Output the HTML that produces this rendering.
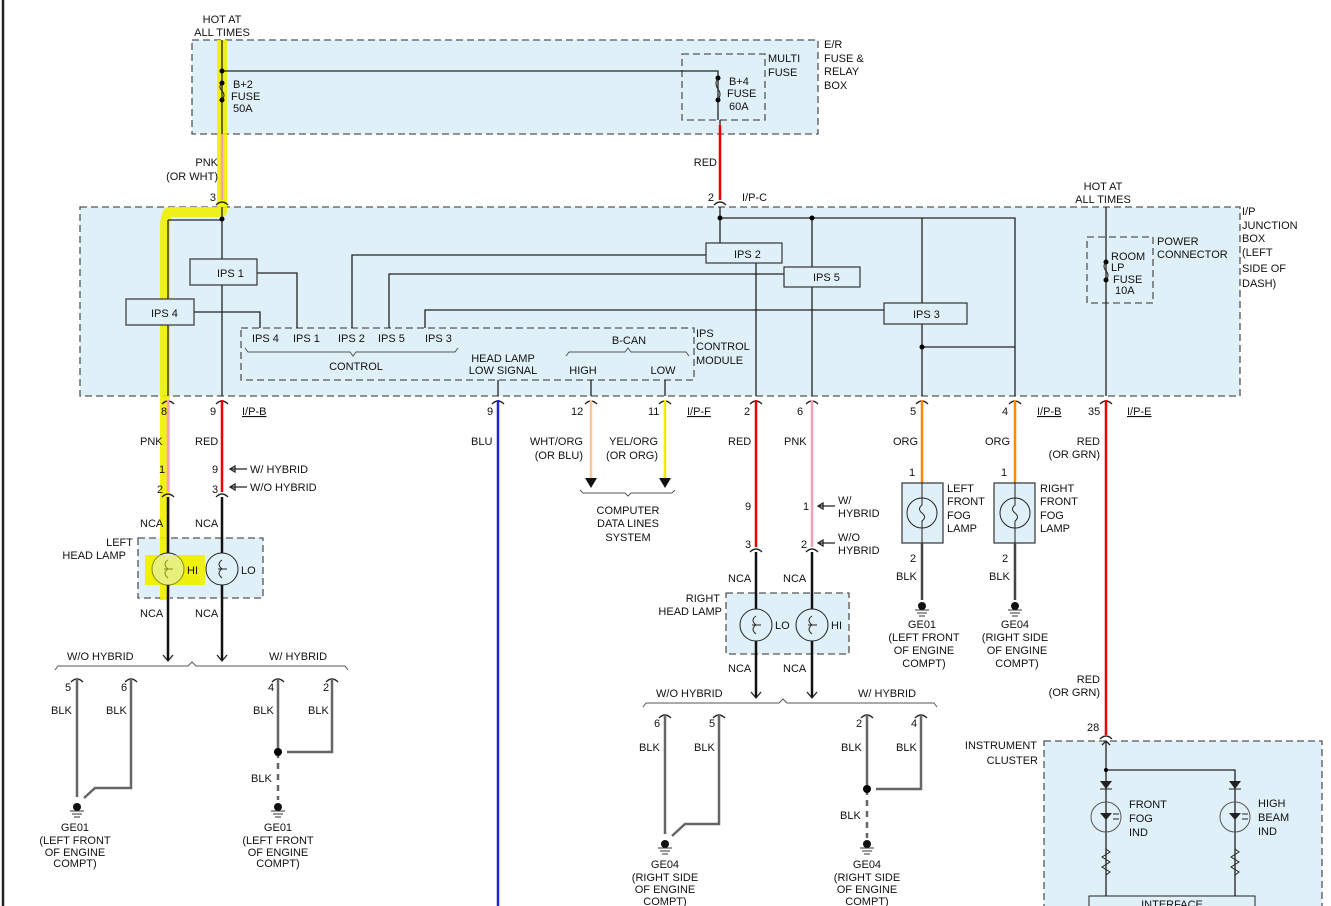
<!DOCTYPE html>
<html><head><meta charset="utf-8"><style>
html,body{margin:0;padding:0;background:#fff}
svg{display:block}
text{font-family:"Liberation Sans",sans-serif;font-size:11px;fill:#111}
.w{stroke:#222;stroke-width:1.3;fill:none}
.g{stroke:#666;stroke-width:2.5;fill:none}
.box{fill:#e0f0f8;stroke:#555;stroke-width:1.3;stroke-dasharray:7,4}
.ips{fill:#e0f0f8;stroke:#333;stroke-width:1.2}
</style></head><body>
<svg width="1331" height="906" viewBox="0 0 1331 906" xmlns="http://www.w3.org/2000/svg">
<line x1="3" y1="0" x2="3" y2="906" stroke="#222" stroke-width="2.5"/>
<!-- boxes -->
<rect class="box" x="192" y="40" width="626" height="94"/>
<rect class="box" x="682" y="54" width="83" height="66"/>
<rect class="box" x="80" y="207" width="1160" height="189"/>
<rect class="box" x="241" y="328" width="453" height="52"/>
<rect class="box" x="1087" y="237" width="66" height="66"/>
<rect class="box" x="138" y="538" width="125" height="60"/>
<rect class="box" x="726" y="593" width="123" height="61"/>
<rect class="box" x="1044" y="741" width="278" height="170"/>
<!-- highlighter -->
<g stroke="#f0f000" stroke-width="10" fill="none" stroke-linejoin="round" opacity="0.9">
<path d="M222 40 V212 H170 Q165 212 165 230 V600"/>
<rect x="145" y="555" width="60" height="30" fill="#f0f000" stroke="none"/>
</g>
<!-- E/R box -->
<path class="w" d="M222 40 V134 M222 71 H718 V120 M720 120 V134"/>
<circle cx="222" cy="71" r="2.5"/><circle cx="222" cy="83" r="2.5"/><circle cx="222" cy="100" r="2.5"/>
<path d="M222 83 q-4 4 0 8 q4 4 0 9" stroke="#222" fill="none"/>
<circle cx="718" cy="78" r="2.5"/><circle cx="718" cy="100" r="2.5"/>
<path d="M718 78 q-4 5 0 11 q4 5 0 11" stroke="#222" fill="none"/>
<text x="222" y="23" text-anchor="middle">HOT AT</text><text x="222" y="36" text-anchor="middle">ALL TIMES</text>
<text x="233" y="88">B+2</text><text x="231" y="100">FUSE</text><text x="233" y="112">50A</text>
<text x="729" y="85">B+4</text><text x="727" y="97">FUSE</text><text x="729" y="110">60A</text>
<text x="768" y="62">MULTI</text><text x="768" y="76">FUSE</text>
<text x="824" y="48">E/R</text><text x="824" y="62">FUSE &amp;</text><text x="824" y="75">RELAY</text><text x="824" y="89">BOX</text>
<line x1="222" y1="134" x2="222" y2="200" stroke="#f4a0b8" stroke-width="2.5"/>
<line x1="720" y1="125" x2="720" y2="200" stroke="#e00" stroke-width="2.5"/>
<text x="218" y="166" text-anchor="end">PNK</text><text x="218" y="180" text-anchor="end">(OR WHT)</text>
<text x="717" y="166" text-anchor="end">RED</text>
<text x="216" y="201" text-anchor="end">3</text><text x="714" y="201" text-anchor="end">2</text><text x="742" y="201">I/P-C</text>
<path class="w" d="M216 205 q6 -6 12 0 M714 205 q6 -6 12 0"/>
<!-- junction box internals -->
<path class="w" d="M222 207 V396 M168 220 H222 M168 220 V396 M257 273 H297 V328 M194 312 H260 V328 M352 328 V255 H706 M389 328 V274 H784 M425 328 V310 H884"/>
<path class="w" d="M720 207 V243 M720 218 H1015 V396 M756 263 V396 M812 218 V267 M812 287 V396 M922 218 V303 M922 324 V396 M922 347 H1015 M1106 207 V396 M591 380 V396 M665 380 V396 M498 380 V396"/>
<circle cx="222" cy="219" r="2.5"/><circle cx="720" cy="218" r="2.5"/><circle cx="812" cy="218" r="2.5"/><circle cx="922" cy="347" r="2.5"/>
<circle cx="1106" cy="262" r="2.5"/><circle cx="1106" cy="280" r="2.5"/>
<path d="M1106 262 q-4 4 0 9 q4 4 0 9" stroke="#222" fill="none"/>
<rect class="ips" x="190" y="259" width="67" height="26"/><text x="217" y="277">IPS 1</text>
<rect class="ips" x="126" y="299" width="68" height="26"/><text x="151" y="317">IPS 4</text>
<rect class="ips" x="706" y="243" width="76" height="20"/><text x="734" y="258">IPS 2</text>
<rect class="ips" x="784" y="267" width="76" height="20"/><text x="813" y="281">IPS 5</text>
<rect class="ips" x="884" y="303" width="83" height="21"/><text x="913" y="318">IPS 3</text>
<text x="252" y="342">IPS 4</text><text x="293" y="342">IPS 1</text><text x="338" y="342">IPS 2</text><text x="378" y="342">IPS 5</text><text x="425" y="342">IPS 3</text>
<path d="M245 348 l3 4 H350 l3 4 l3 -4 H455 l3 -4" stroke="#555" fill="none"/>
<path d="M566 356 l3 -4 H625 l3 -4 l3 4 H686 l3 4" stroke="#555" fill="none"/>
<text x="356" y="370" text-anchor="middle">CONTROL</text>
<text x="503" y="362" text-anchor="middle">HEAD LAMP</text><text x="503" y="374" text-anchor="middle">LOW SIGNAL</text>
<text x="629" y="344" text-anchor="middle">B-CAN</text><text x="583" y="374" text-anchor="middle">HIGH</text><text x="663" y="374" text-anchor="middle">LOW</text>
<text x="696" y="337">IPS</text><text x="696" y="350">CONTROL</text><text x="696" y="364">MODULE</text>
<text x="1103" y="190" text-anchor="middle">HOT AT</text><text x="1103" y="203" text-anchor="middle">ALL TIMES</text>
<text x="1242" y="215">I/P</text><text x="1242" y="229">JUNCTION</text><text x="1242" y="242">BOX</text><text x="1242" y="256">(LEFT</text><text x="1242" y="272">SIDE OF</text><text x="1242" y="287">DASH)</text>
<text x="1157" y="245">POWER</text><text x="1157" y="258">CONNECTOR</text>
<text x="1111" y="260">ROOM</text><text x="1111" y="271">LP</text><text x="1113" y="283">FUSE</text><text x="1115" y="294">10A</text>
<!-- bottom connectors -->
<g class="w">
<path d="M162 404 q6 -6 12 0 M216 404 q6 -6 12 0 M492 404 q6 -6 12 0 M585 404 q6 -6 12 0 M659 404 q6 -6 12 0 M750 404 q6 -6 12 0 M806 404 q6 -6 12 0 M916 404 q6 -6 12 0 M1009 404 q6 -6 12 0 M1100 404 q6 -6 12 0"/>
</g>
<text x="161" y="415">8</text><text x="210" y="415">9</text><text x="242" y="415" text-decoration="underline">I/P-B</text>
<text x="487" y="415">9</text><text x="571" y="415">12</text><text x="648" y="415">11</text><text x="687" y="415" text-decoration="underline">I/P-F</text>
<text x="744" y="415">2</text><text x="797" y="415">6</text><text x="910" y="415">5</text><text x="1002" y="415">4</text><text x="1037" y="415" text-decoration="underline">I/P-B</text>
<text x="1088" y="415">35</text><text x="1127" y="415" text-decoration="underline">I/P-E</text>
<!-- colored wires -->
<line x1="168" y1="400" x2="168" y2="492" stroke="#f4a0b8" stroke-width="2.5"/>
<line x1="222" y1="400" x2="222" y2="492" stroke="#e00" stroke-width="2.5"/>
<line x1="498" y1="400" x2="498" y2="906" stroke="#22d" stroke-width="2.5"/>
<line x1="591" y1="400" x2="591" y2="478" stroke="#f8c898" stroke-width="2.5"/>
<line x1="665" y1="400" x2="665" y2="478" stroke="#ee0" stroke-width="2.5"/>
<line x1="756" y1="400" x2="756" y2="547" stroke="#e00" stroke-width="2.5"/>
<line x1="812" y1="400" x2="812" y2="547" stroke="#f4a0b8" stroke-width="2.5"/>
<line x1="922" y1="400" x2="922" y2="483" stroke="#f80" stroke-width="2.5"/>
<line x1="1015" y1="400" x2="1015" y2="483" stroke="#f80" stroke-width="2.5"/>
<line x1="1106" y1="400" x2="1106" y2="735" stroke="#e00" stroke-width="2.5"/>
<text x="140" y="445">PNK</text><text x="195" y="445">RED</text><text x="471" y="445">BLU</text>
<text x="583" y="445" text-anchor="end">WHT/ORG</text><text x="583" y="459" text-anchor="end">(OR BLU)</text>
<text x="658" y="445" text-anchor="end">YEL/ORG</text><text x="658" y="459" text-anchor="end">(OR ORG)</text>
<text x="728" y="445">RED</text><text x="784" y="445">PNK</text><text x="893" y="445">ORG</text><text x="985" y="445">ORG</text>
<text x="1100" y="445" text-anchor="end">RED</text><text x="1100" y="458" text-anchor="end">(OR GRN)</text>
<!-- computer data -->
<path d="M585 478 h12 l-6 10 z M659 478 h12 l-6 10 z" fill="#111"/>
<path d="M580 490 l3 3 H625 l3 3 l3 -3 H672 l3 -3" stroke="#555" fill="none"/>
<text x="628" y="514" text-anchor="middle">COMPUTER</text><text x="628" y="527" text-anchor="middle">DATA LINES</text><text x="628" y="541" text-anchor="middle">SYSTEM</text>
<!-- left head lamp -->
<text x="159" y="473">1</text><text x="157" y="493">2</text><text x="212" y="473">9</text><text x="212" y="493">3</text>
<path class="w" d="M230 469 H247 M230 469 l5 -3 v6 z M230 487 H247 M230 487 l5 -3 v6 z"/>
<text x="250" y="473">W/ HYBRID</text><text x="250" y="491">W/O HYBRID</text>
<path class="w" d="M162 497 q6 -6 12 0 M216 497 q6 -6 12 0"/>
<path d="M168 497 V660 M222 497 V660" stroke="#111" stroke-width="2.5"/>
<path class="w" d="M163 655 l5 6 l5 -6 M217 655 l5 6 l5 -6"/>
<text x="140" y="527">NCA</text><text x="195" y="527">NCA</text><text x="140" y="617">NCA</text><text x="195" y="617">NCA</text>
<circle cx="168" cy="569" r="16" fill="#e0f0f8" stroke="#222"/><circle cx="222" cy="569" r="16" fill="#e0f0f8" stroke="#222"/>
<path d="M168 560 q-6 4 0 9 q-6 4 0 9 M164 569 h9 M222 560 q-6 4 0 9 q-6 4 0 9 M218 569 h9" stroke="#222" fill="none"/>
<rect x="145" y="555" width="55" height="30" fill="#f0f000" opacity="0.5"/>
<text x="187" y="574">HI</text><text x="241" y="574">LO</text>
<text x="133" y="546" text-anchor="end">LEFT</text><text x="126" y="559" text-anchor="end">HEAD LAMP</text>
<path d="M55 670 l3 -4 H188 l4 -4 l4 4 H345 l3 4" stroke="#555" fill="none"/>
<text x="67" y="660">W/O HYBRID</text><text x="269" y="660">W/ HYBRID</text>
<path class="w" d="M71 682 q6 -6 12 0 M125 682 q6 -6 12 0 M272 682 q6 -6 12 0 M326 682 q6 -6 12 0"/>
<path class="g" d="M77 678 V797 M131 678 V788 H95 L84 798 M278 678 V752 M332 678 V752 H287"/>
<path d="M278 752 V800" stroke="#666" stroke-width="2.5" stroke-dasharray="6,5"/>
<circle cx="278" cy="752" r="4"/>
<text x="65" y="691">5</text><text x="121" y="691">6</text><text x="268" y="691">4</text><text x="323" y="691">2</text>
<text x="51" y="714">BLK</text><text x="106" y="714">BLK</text><text x="253" y="714">BLK</text><text x="308" y="714">BLK</text><text x="251" y="782">BLK</text>
<g fill="#111"><circle cx="77" cy="807" r="4"/><circle cx="278" cy="807" r="4"/></g>
<path d="M70 811 h14 M72 814 h10 M74 817 h6 M271 811 h14 M273 814 h10 M275 817 h6" stroke="#333"/>
<g text-anchor="middle"><text x="75" y="831">GE01</text><text x="75" y="844">(LEFT FRONT</text><text x="75" y="856">OF ENGINE</text><text x="75" y="867">COMPT)</text>
<text x="278" y="831">GE01</text><text x="278" y="844">(LEFT FRONT</text><text x="278" y="856">OF ENGINE</text><text x="278" y="867">COMPT)</text></g>
<!-- right head lamp -->
<text x="745" y="510">9</text><text x="803" y="510">1</text><text x="745" y="548">3</text><text x="801" y="548">2</text>
<path class="w" d="M818 506 H835 M818 506 l5 -3 v6 z M818 543 H835 M818 543 l5 -3 v6 z"/>
<text x="838" y="504">W/</text><text x="838" y="517">HYBRID</text><text x="838" y="541">W/O</text><text x="838" y="554">HYBRID</text>
<path class="w" d="M750 552 q6 -6 12 0 M806 552 q6 -6 12 0"/>
<path d="M756 552 V697 M812 552 V697" stroke="#111" stroke-width="2.5"/>
<path class="w" d="M751 692 l5 6 l5 -6 M807 692 l5 6 l5 -6"/>
<text x="728" y="582">NCA</text><text x="783" y="582">NCA</text><text x="728" y="672">NCA</text><text x="783" y="672">NCA</text>
<circle cx="756" cy="625" r="16" fill="#e0f0f8" stroke="#222"/><circle cx="812" cy="625" r="16" fill="#e0f0f8" stroke="#222"/>
<path d="M756 616 q-6 4 0 9 q-6 4 0 9 M752 625 h9 M812 616 q-6 4 0 9 q-6 4 0 9 M808 625 h9" stroke="#222" fill="none"/>
<text x="775" y="629">LO</text><text x="831" y="629">HI</text>
<text x="720" y="602" text-anchor="end">RIGHT</text><text x="722" y="615" text-anchor="end">HEAD LAMP</text>
<path d="M643 707 l3 -4 H779 l4 -4 l4 4 H934 l3 4" stroke="#555" fill="none"/>
<text x="656" y="697">W/O HYBRID</text><text x="858" y="697">W/ HYBRID</text>
<path class="w" d="M659 718 q6 -6 12 0 M713 718 q6 -6 12 0 M861 718 q6 -6 12 0 M915 718 q6 -6 12 0"/>
<path class="g" d="M665 714 V834 M719 714 V824 H685 L672 836 M867 714 V789 M921 714 V789 H876"/>
<path d="M867 789 V838" stroke="#666" stroke-width="2.5" stroke-dasharray="6,5"/>
<circle cx="867" cy="789" r="4"/>
<text x="654" y="727">6</text><text x="709" y="727">5</text><text x="856" y="727">2</text><text x="911" y="727">4</text>
<text x="639" y="751">BLK</text><text x="694" y="751">BLK</text><text x="841" y="751">BLK</text><text x="896" y="751">BLK</text><text x="840" y="819">BLK</text>
<g fill="#111"><circle cx="665" cy="844" r="4"/><circle cx="867" cy="844" r="4"/></g>
<path d="M658 848 h14 M660 851 h10 M662 854 h6 M860 848 h14 M862 851 h10 M864 854 h6" stroke="#333"/>
<g text-anchor="middle"><text x="665" y="868">GE04</text><text x="665" y="881">(RIGHT SIDE</text><text x="665" y="893">OF ENGINE</text><text x="665" y="905">COMPT)</text>
<text x="867" y="868">GE04</text><text x="867" y="881">(RIGHT SIDE</text><text x="867" y="893">OF ENGINE</text><text x="867" y="905">COMPT)</text></g>
<!-- fog lamps -->
<text x="909" y="476">1</text><text x="1001" y="476">1</text>
<rect class="ips" x="902" y="483" width="41" height="60" fill="#e0f0f8"/><rect class="ips" x="994" y="483" width="41" height="60"/>
<circle cx="922" cy="513" r="15" fill="none" stroke="#222"/><circle cx="1015" cy="513" r="15" fill="none" stroke="#222"/>
<path d="M922 483 V505 q-5 4 0 8 q5 4 0 8 V543 M1015 483 V505 q-5 4 0 8 q5 4 0 8 V543" stroke="#222" fill="none"/>
<path d="M922 543 V600 M1015 543 V600" stroke="#444" stroke-width="2.5"/>
<text x="947" y="492">LEFT</text><text x="947" y="505">FRONT</text><text x="947" y="519">FOG</text><text x="947" y="532">LAMP</text>
<text x="1040" y="492">RIGHT</text><text x="1040" y="505">FRONT</text><text x="1040" y="519">FOG</text><text x="1040" y="532">LAMP</text>
<text x="910" y="562">2</text><text x="1002" y="562">2</text><text x="896" y="580">BLK</text><text x="989" y="580">BLK</text>
<g fill="#111"><circle cx="922" cy="606" r="4"/><circle cx="1015" cy="606" r="4"/></g>
<path d="M915 610 h14 M917 613 h10 M919 616 h6 M1008 610 h14 M1010 613 h10 M1012 616 h6" stroke="#333"/>
<g text-anchor="middle"><text x="922" y="628">GE01</text><text x="924" y="641">(LEFT FRONT</text><text x="924" y="654">OF ENGINE</text><text x="924" y="667">COMPT)</text>
<text x="1015" y="628">GE04</text><text x="1015" y="641">(RIGHT SIDE</text><text x="1017" y="654">OF ENGINE</text><text x="1017" y="667">COMPT)</text></g>
<!-- instrument cluster -->
<text x="1100" y="683" text-anchor="end">RED</text><text x="1100" y="696" text-anchor="end">(OR GRN)</text>
<text x="1087" y="731">28</text>
<path class="w" d="M1100 739 q6 -6 12 0 M1102 745 l4 -4 l4 4"/>
<path class="w" d="M1106 741 V896 M1106 770 H1235 V896"/>
<circle cx="1106" cy="770" r="2"/>
<path d="M1100 781 h12 l-6 8 z M1229 781 h12 l-6 8 z" fill="#222"/>
<path d="M1100 789 h12 M1229 789 h12" stroke="#222"/>
<circle cx="1106" cy="817" r="15" fill="none" stroke="#555"/><circle cx="1235" cy="817" r="15" fill="none" stroke="#555"/>
<path d="M1100 813 h12 l-6 7 z M1229 813 h12 l-6 7 z" fill="#222"/>
<path d="M1113 814 h6 M1113 819 h6 M1242 814 h6 M1242 819 h6" stroke="#222"/>
<path d="M1106 849 l4 3 l-8 5 l8 5 l-8 5 l8 5 l-4 3 M1235 849 l4 3 l-8 5 l8 5 l-8 5 l8 5 l-4 3" stroke="#222" fill="none"/>
<rect x="1089" y="896" width="166" height="14" fill="#e0f0f8" stroke="#222"/>
<text x="1172" y="908" text-anchor="middle">INTERFACE</text>
<text x="1129" y="808">FRONT</text><text x="1129" y="822">FOG</text><text x="1129" y="836">IND</text>
<text x="1258" y="807">HIGH</text><text x="1258" y="821">BEAM</text><text x="1258" y="835">IND</text>
<text x="1037" y="749" text-anchor="end">INSTRUMENT</text><text x="1038" y="764" text-anchor="end">CLUSTER</text>
</svg>
</body></html>
